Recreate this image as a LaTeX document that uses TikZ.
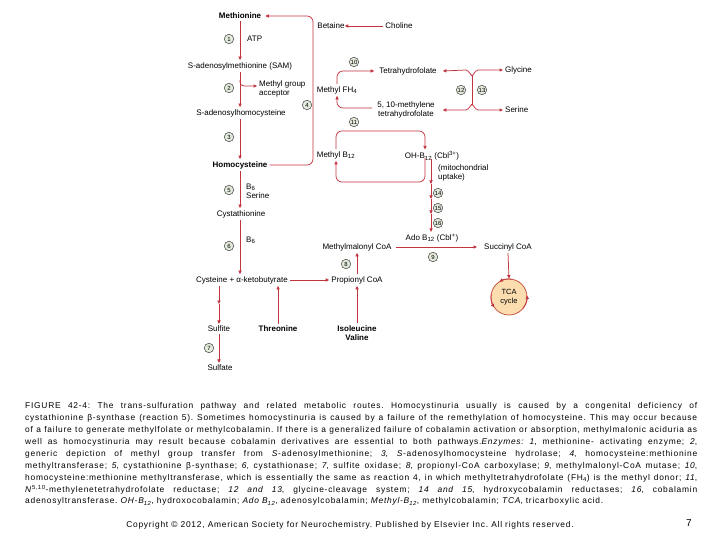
\documentclass[tikz,border=0pt]{standalone}
\usepackage{fontspec}
\setmainfont{Liberation Sans}
\newfontfamily\capfam[LetterSpace=9]{Liberation Sans}
\usetikzlibrary{arrows.meta,calc}
\definecolor{arrred}{HTML}{C23440}
\definecolor{numfill}{HTML}{E3EBDC}
\definecolor{tcafill}{HTML}{FBDDB0}
\definecolor{tcaline}{HTML}{C8503C}
\newcommand{\capline}[1]{\makebox[672pt][s]{#1}}
\frenchspacing
\begin{document}
\begin{tikzpicture}[x=1pt,y=-1pt,
  lbl/.style={inner sep=2pt, font=\fontsize{8}{9}\selectfont, align=center},
  blbl/.style={inner sep=2pt, font=\fontsize{8}{9}\selectfont\bfseries, align=center},
  num/.style={circle, draw=black!75, fill=numfill, inner sep=0pt, minimum size=9.5pt, font=\fontsize{6}{6}\selectfont, line width=0.5pt},
  arr/.style={draw=arrred, line width=0.75pt, -{Triangle[length=3.5pt,width=3.2pt]}},
  ln/.style={draw=arrred, line width=0.75pt},
]
\useasboundingbox[fill=white] (0,0) rectangle (720,540);

% main chain
\node[blbl] (met) at (240,16) {Methionine};
\node[lbl] (sam) at (240,66) {S-adenosylmethionine (SAM)};
\node[lbl] (sah) at (241,113) {S-adenosylhomocysteine};
\node[blbl] (hcy) at (240,165) {Homocysteine};
\node[lbl] (cys) at (241,214) {Cystathionine};
\node[lbl] (cka) at (242,280) {Cysteine + α-ketobutyrate};
\node[lbl] (sulfite) at (219,329) {Sulfite};
\node[lbl] (sulfate) at (220,368) {Sulfate};
\node[blbl] (thr) at (278,329) {Threonine};
\node[lbl] (prop) at (357,280) {Propionyl CoA};
\node[blbl] (ile) at (357,333) {Isoleucine\\Valine};
\node[lbl] (mma) at (357,247) {Methylmalonyl CoA};
\node[lbl] (ado) at (432,238) {Ado B\textsubscript{12} (Cbl\textsuperscript{+})};
\node[lbl] (suc) at (508,247) {Succinyl CoA};
\node[circle, draw=tcaline, fill=tcafill, line width=0.75pt, minimum size=36pt, inner sep=0pt, align=center, font=\fontsize{7.5}{8.5}\selectfont] (tca) at (509,297) {TCA\\cycle};

\node[lbl, anchor=west] (atp) at (245,39) {ATP};
\node[lbl, anchor=west, align=left] (mga) at (257,88.5) {Methyl group\\acceptor};
\node[lbl, anchor=west, align=left] (b6a) at (244,191) {B\textsubscript{6}\\Serine};
\node[lbl, anchor=west] (b6b) at (244,240) {B\textsubscript{6}};

% right part
\node[lbl] (bet) at (331,26) {Betaine};
\node[lbl] (cho) at (399,26) {Choline};
\node[lbl] (tfh) at (408,71) {Tetrahydrofolate};
\node[lbl] (mfh) at (337,90) {Methyl FH\textsubscript{4}};
\node[lbl] (mth) at (406,109.5) {5, 10-methylene\\tetrahydrofolate};
\node[lbl, anchor=west] (gly) at (503,70) {Glycine};
\node[lbl, anchor=west] (ser) at (503,110) {Serine};
\node[lbl] (mb12) at (336,155) {Methyl B\textsubscript{12}};
\node[lbl] (ohb) at (432,156) {OH-B\textsubscript{12} (Cbl\textsuperscript{3+})};
\node[lbl, anchor=west, align=left] (mito) at (436,173) {(mitochondrial\\uptake)};

% numbers
\node[num] (c1) at (229,39) {1};
\node[num] (c2) at (229,88) {2};
\node[num] (c3) at (229,137) {3};
\node[num] (c4) at (307,105) {4};
\node[num] (c5) at (229,190) {5};
\node[num] (c6) at (229,246) {6};
\node[num] (c7) at (209,348) {7};
\node[num] (c8) at (346,264) {8};
\node[num] (c9) at (433,257) {9};
\node[num] (c10) at (354,62) {10};
\node[num] (c11) at (354,122) {11};
\node[num] (c12) at (461,90) {12};
\node[num] (c13) at (482,90) {13};
\node[num] (c14) at (438,193) {14};
\node[num] (c15) at (438,208) {15};
\node[num] (c16) at (438,223) {16};

% coordinates
\coordinate (b2) at (240,80);
\coordinate (k1) at (431,184);
\coordinate (k2) at (431,199);
\coordinate (k3) at (431,214);
\coordinate (jt) at (472,75);
\coordinate (jb) at (472,105);
\coordinate (sm) at (219,304);

% main chain arrows
\draw[arr] (met.south) -- (met.south |- sam.north);
\draw[arr] (sam.south) -- (sam.south |- sah.north);
\draw[arr, rounded corners=4pt] (b2) |- (mga.west |- 0,86);
\draw[arr] (sah.south -| 240,0) -- (hcy.north);
\draw[arr] (hcy.south) -- (hcy.south |- cys.north);
\draw[arr] (cys.south -| 240,0) -- (cka.north -| 240,0);
\draw[arr] (cka.south -| sulfite.north) -- (sm);
\draw[arr] (sm) -- (sulfite.north);
\draw[arr] (sulfite.south) -- (sulfite.south |- sulfate.north);
\draw[arr] (thr.north) -- (thr.north |- cka.south);
\draw[arr] (cka.east) -- (prop.west);
\draw[arr] (ile.north) -- (prop.south);
\draw[arr] (prop.north) -- (mma.south);
\draw[arr] ([xshift=2pt]mma.east) -- ([xshift=-5pt]suc.west);
\draw[arr] (suc.south) -- (tca.north);
% TCA arrowheads
\draw[arr] ([shift={(170:18pt)}]tca.center) arc[start angle=170, end angle=215, radius=18pt];
\draw[arr] ([shift={(-40:18pt)}]tca.center) arc[start angle=-40, end angle=5, radius=18pt];
\draw[arr] ([shift={(80:18pt)}]tca.center) arc[start angle=80, end angle=122, radius=18pt];

% homocysteine -> methionine (4)
\draw[arr, rounded corners=6pt] (hcy.east) -- (hcy.east -| 313,0) -- (met.east -| 313,0) -- ([xshift=2pt]met.east);
\draw[arr] (cho.west) -- ([xshift=-2pt]bet.east);

% folate loop
\draw[arr, rounded corners=6pt] (mfh.north) |- ([xshift=-3pt]tfh.west);
\draw[arr, rounded corners=6pt] ([yshift=1.5pt,xshift=-3pt]mth.west) -| (mfh.south);

% glycine / serine
\draw[arr] (jt) to[out=-90,in=0,looseness=1] (466,70) -- ([xshift=4pt]tfh.east);
\draw[arr] (jt) to[out=-90,in=180,looseness=1] (478,70) -- (gly.west);
\draw[ln] (jt) -- (jb);
\draw[arr] (jb) to[out=90,in=0,looseness=1] (466,110) -- ([xshift=6pt]mth.east |- 0,110);
\draw[arr] (jb) to[out=90,in=180,looseness=1] (478,110) -- (ser.west);

% B12 loop
\draw[arr, rounded corners=6pt] (mb12.north) -- (mb12.north |- 0,131) -- (425,131) -- ([xshift=-7pt]ohb.north);
\draw[arr, rounded corners=6pt] ([xshift=-7pt,yshift=5pt]ohb.south) -- (425,182) -- (mb12.south |- 0,182) -- (mb12.south);

% mitochondrial chain
\draw[arr] ([yshift=4pt]ohb.south -| 431,0) -- (k1);
\draw[arr] (k1) -- (k2);
\draw[arr] (k2) -- (k3);
\draw[arr] (k3) -- (ado.north -| 431,0);

% caption
\node[anchor=north west, inner sep=0pt, align=left, font=\capfam\fontsize{8.4}{11.9}\selectfont] (cap) at (25,402.5) {%
\capline{FIGURE 42-4: The trans-sulfuration pathway and related metabolic routes. Homocystinuria usually is caused by a congenital deficiency of}\\
\capline{cystathionine β-synthase (reaction 5). Sometimes homocystinuria is caused by a failure of the remethylation of homocysteine. This may occur because}\\
\capline{of a failure to generate methylfolate or methylcobalamin. If there is a generalized failure of cobalamin activation or absorption, methylmalonic aciduria as}\\
\capline{well as homocystinuria may result because cobalamin derivatives are essential to both pathways.\textit{Enzymes: 1}, methionine- activating enzyme; \textit{2},}\\
\capline{generic depiction of methyl group transfer from \textit{S}-adenosylmethionine; \textit{3}, \textit{S}-adenosylhomocysteine hydrolase; \textit{4}, homocysteine:methionine}\\
\capline{methyltransferase; \textit{5}, cystathionine β-synthase; \textit{6}, cystathionase; \textit{7}, sulfite oxidase; \textit{8}, propionyl-CoA carboxylase; \textit{9}, methylmalonyl-CoA mutase; \textit{10},}\\
\capline{homocysteine:methionine methyltransferase, which is essentially the same as reaction 4, in which methyltetrahydrofolate (FH\textsubscript{4}) is the methyl donor; \textit{11},}\\
\capline{\textit{N}\textsuperscript{5,10}-methylenetetrahydrofolate reductase; \textit{12 and 13}, glycine-cleavage system; \textit{14 and 15}, hydroxycobalamin reductases; \textit{16}, cobalamin}\\
adenosyltransferase. \textit{OH-B\textsubscript{12}}, hydroxocobalamin; \textit{Ado B\textsubscript{12}}, adenosylcobalamin; \textit{Methyl-B\textsubscript{12}}, methylcobalamin; \textit{TCA}, tricarboxylic acid.};
\node[inner sep=0pt, font=\capfam\fontsize{8.4}{10}\selectfont] (copy) at (350,525) {Copyright © 2012, American Society for Neurochemistry. Published by Elsevier Inc. All rights reserved.};
\node[inner sep=0pt, font=\fontsize{10}{11}\selectfont] (pg) at (689,523) {7};
\end{tikzpicture}
\end{document}
